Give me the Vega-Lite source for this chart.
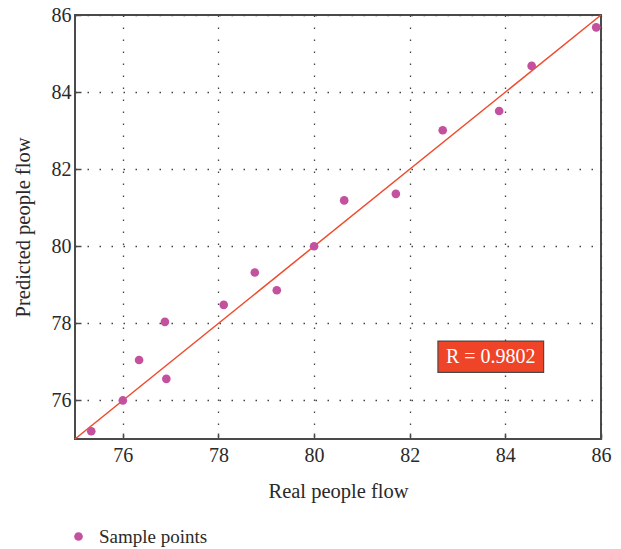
{
  "$schema": "https://vega.github.io/schema/vega-lite/v6.json",
  "autosize": "none",
  "width": 526,
  "height": 424,
  "padding": {"left": 75, "top": 15, "right": 20, "bottom": 110},
  "config": {
    "view": {"stroke": "#4a4a4a", "strokeWidth": 2},
    "font": "Liberation Serif",
    "axis": {
      "labelFont": "Liberation Serif",
      "titleFont": "Liberation Serif",
      "labelFontSize": 20,
      "titleFontSize": 20.5,
      "titleFontWeight": "normal",
      "labelColor": "#2a2a2a",
      "titleColor": "#2a2a2a",
      "labelFlush": false,
      "labelOverlap": false,
      "domain": false,
      "grid": true,
      "gridColor": "#444",
      "gridDash": [1.5, 10.5],
      "gridWidth": 1.3,
      "tickColor": "#4a4a4a",
      "tickSize": -6,
      "tickWidth": 1.5
    }
  },
  "datasets": {
    "pts": [
      {"real": 75.34, "pred": 75.2, "series": "Sample points"},
      {"real": 76.0, "pred": 76.0, "series": "Sample points"},
      {"real": 76.34, "pred": 77.05, "series": "Sample points"},
      {"real": 76.88, "pred": 78.04, "series": "Sample points"},
      {"real": 76.91, "pred": 76.56, "series": "Sample points"},
      {"real": 78.11, "pred": 78.48, "series": "Sample points"},
      {"real": 78.76, "pred": 79.32, "series": "Sample points"},
      {"real": 79.22, "pred": 78.86, "series": "Sample points"},
      {"real": 80.0, "pred": 80.0, "series": "Sample points"},
      {"real": 80.63, "pred": 81.19, "series": "Sample points"},
      {"real": 81.71, "pred": 81.36, "series": "Sample points"},
      {"real": 82.69, "pred": 83.01, "series": "Sample points"},
      {"real": 83.87, "pred": 83.51, "series": "Sample points"},
      {"real": 84.55, "pred": 84.68, "series": "Sample points"},
      {"real": 85.9, "pred": 85.68, "series": "Sample points"}
    ],
    "fit": [
      {"real": 75, "pred": 75},
      {"real": 86, "pred": 86}
    ],
    "label": [
      {"x1": 82.59, "x2": 84.8, "y1": 76.73, "y2": 77.54, "xc": 83.695, "yc": 77.12, "text": "R = 0.9802"}
    ]
  },
  "layer": [
    {
      "data": {"name": "fit"},
      "mark": {"type": "line", "color": "#F04A2C", "strokeWidth": 1.5},
      "encoding": {
        "x": {"field": "real", "type": "quantitative", "scale": {"domain": [75, 86], "nice": false, "zero": false}, "axis": {"values": [76, 78, 80, 82, 84, 86], "title": "Real people flow", "labelPadding": 12, "titlePadding": 16}},
        "y": {"field": "pred", "type": "quantitative", "scale": {"domain": [75, 86], "nice": false, "zero": false}, "axis": {"values": [76, 78, 80, 82, 84, 86], "title": "Predicted people flow", "labelPadding": 10, "titlePadding": 18}}
      }
    },
    {
      "data": {"name": "pts"},
      "mark": {"type": "point", "filled": true, "shape": "circle", "size": 75, "opacity": 1},
      "encoding": {
        "x": {"field": "real", "type": "quantitative"},
        "y": {"field": "pred", "type": "quantitative"},
        "color": {
          "field": "series", "type": "nominal",
          "scale": {"range": ["#C4519E"]},
          "legend": {"title": null, "orient": "none", "legendX": -6, "legendY": 512, "labelFont": "Liberation Serif", "labelFontSize": 19, "labelColor": "#2a2a2a", "symbolSize": 75, "labelOffset": 11}
        }
      }
    },
    {
      "data": {"name": "label"},
      "mark": {"type": "rect", "fill": "#F04428", "stroke": "#4a4a4a", "strokeWidth": 1.2},
      "encoding": {
        "x": {"field": "x1", "type": "quantitative"},
        "x2": {"field": "x2"},
        "y": {"field": "y1", "type": "quantitative"},
        "y2": {"field": "y2"}
      }
    },
    {
      "data": {"name": "label"},
      "mark": {"type": "text", "color": "white", "font": "Liberation Serif", "fontSize": 20, "align": "center", "baseline": "middle"},
      "encoding": {
        "x": {"field": "xc", "type": "quantitative"},
        "y": {"field": "yc", "type": "quantitative"},
        "text": {"field": "text"}
      }
    }
  ]
}
